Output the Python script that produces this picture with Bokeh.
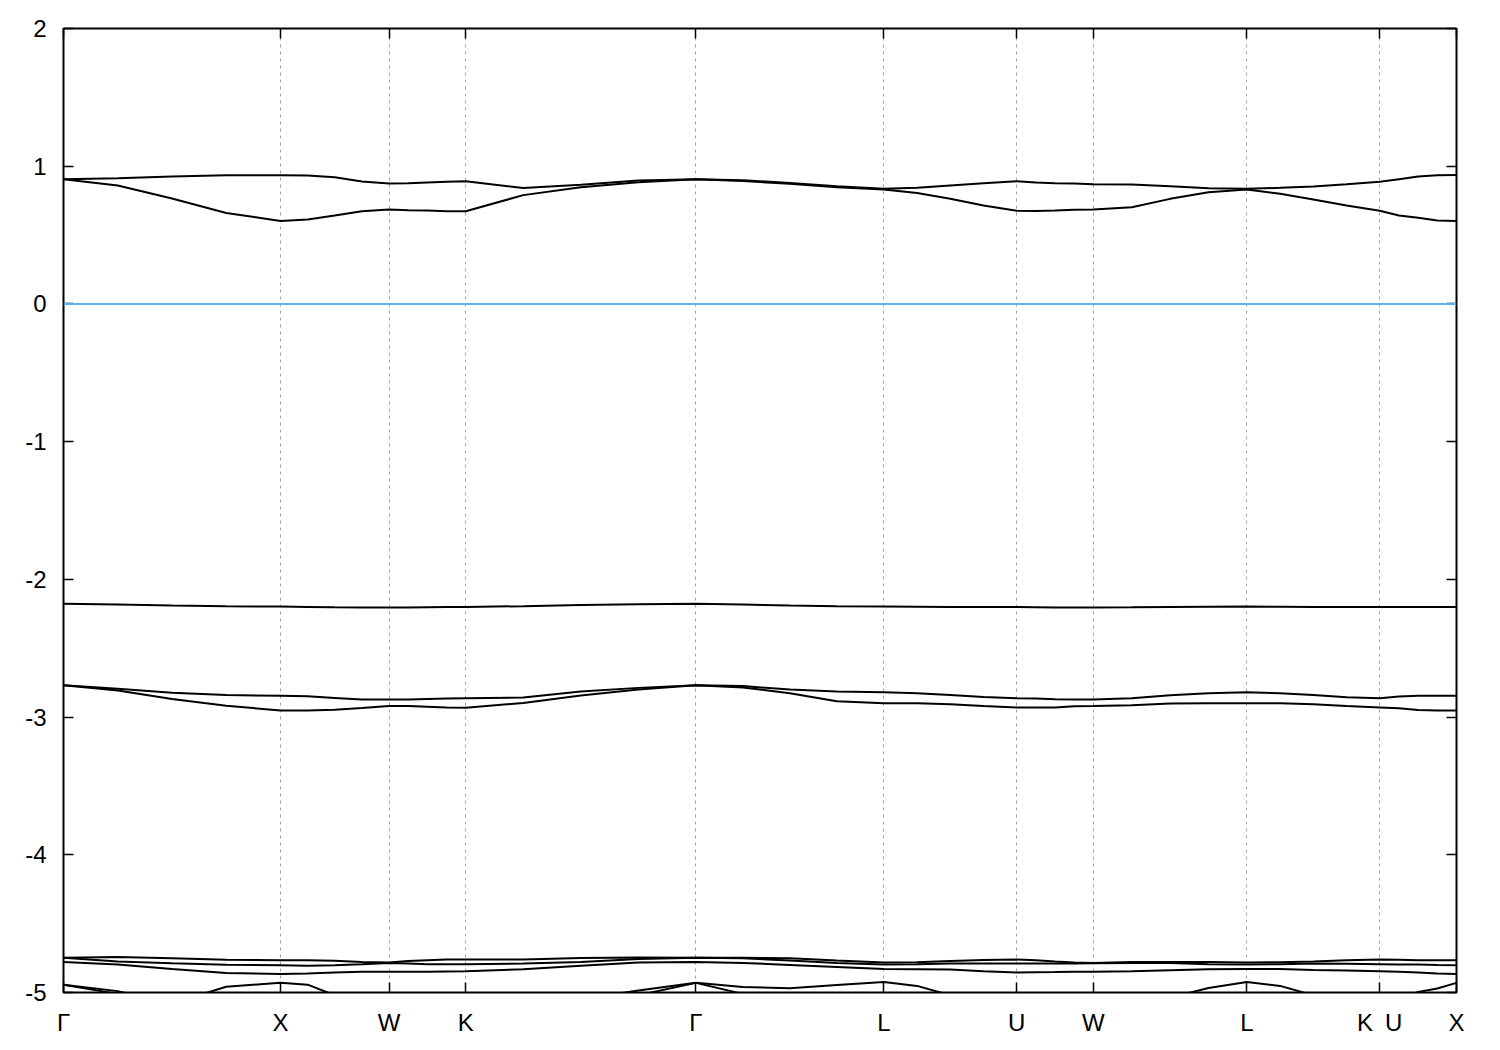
import numpy as np
from bokeh.plotting import figure
from bokeh.models import Range1d, LinearAxis, FixedTicker, Span
from bokeh.embed import file_html
from bokeh.resources import INLINE

# ---- k-path (fcc), segment lengths in units of 2*pi/a ----
seg_lengths = [1.0, 0.5, 0.35355, 1.06066, 0.86603, 0.61237, 0.35355, 0.70711, 0.61237, 0.35355]
sym_labels = ["Γ", "X", "W", "K", "Γ", "L", "U", "W", "L", "K\u2002U", "X"]
y_ticks = [-5, -4, -3, -2, -1, 0, 1, 2]
y_tick_labels = ["-5", "-4", "-3", "-2", "-1", "0", "1", "2"]
fermi_level = 0.0

# ---- band energies (eV), 4 samples per segment + final point ----
band_top = [0.905, 0.913, 0.925, 0.935,
            0.935, 0.933, 0.920, 0.889,
            0.874, 0.877, 0.882, 0.887,
            0.891, 0.841, 0.865, 0.896,
            0.905, 0.898, 0.879, 0.855,
            0.836, 0.843, 0.860, 0.876,
            0.891, 0.882, 0.877, 0.874,
            0.869, 0.868, 0.855, 0.840,
            0.836, 0.843, 0.853, 0.869,
            0.887, 0.906, 0.925, 0.935,
            0.937]
band_second = [0.905, 0.860, 0.765, 0.660,
               0.603, 0.613, 0.642, 0.673,
               0.686, 0.681, 0.678, 0.673,
               0.673, 0.790, 0.848, 0.884,
               0.905, 0.893, 0.872, 0.848,
               0.831, 0.805, 0.763, 0.715,
               0.676, 0.674, 0.678, 0.683,
               0.686, 0.702, 0.763, 0.811,
               0.831, 0.800, 0.758, 0.715,
               0.676, 0.642, 0.625, 0.606,
               0.603]
band_flat = [-2.178, -2.183, -2.190, -2.196,
             -2.198, -2.200, -2.203, -2.205,
             -2.205, -2.204, -2.202, -2.201,
             -2.200, -2.195, -2.187, -2.180,
             -2.178, -2.183, -2.190, -2.196,
             -2.198, -2.199, -2.200, -2.200,
             -2.200, -2.202, -2.204, -2.205,
             -2.205, -2.203, -2.200, -2.199,
             -2.198, -2.199, -2.200, -2.200,
             -2.200, -2.200, -2.200, -2.200,
             -2.200]
band_d_up = [-2.769, -2.795, -2.824, -2.839,
             -2.846, -2.849, -2.861, -2.873,
             -2.873, -2.873, -2.868, -2.865,
             -2.863, -2.858, -2.815, -2.788,
             -2.769, -2.775, -2.800, -2.815,
             -2.820, -2.827, -2.839, -2.854,
             -2.863, -2.866, -2.870, -2.873,
             -2.873, -2.863, -2.841, -2.827,
             -2.820, -2.827, -2.839, -2.856,
             -2.863, -2.851, -2.846, -2.846,
             -2.846]
band_d_low = [-2.769, -2.807, -2.868, -2.917,
              -2.953, -2.953, -2.946, -2.935,
              -2.920, -2.920, -2.925, -2.930,
              -2.933, -2.897, -2.844, -2.800,
              -2.769, -2.785, -2.827, -2.885,
              -2.900, -2.900, -2.907, -2.920,
              -2.930, -2.931, -2.931, -2.921,
              -2.920, -2.914, -2.902, -2.900,
              -2.900, -2.900, -2.907, -2.920,
              -2.930, -2.936, -2.948, -2.953,
              -2.953]
band_s_a = [-4.747, -4.743, -4.752, -4.762,
            -4.766, -4.766, -4.770, -4.778,
            -4.783, -4.771, -4.766, -4.761,
            -4.761, -4.761, -4.750, -4.745,
            -4.747, -4.747, -4.752, -4.768,
            -4.783, -4.780, -4.771, -4.764,
            -4.761, -4.766, -4.775, -4.783,
            -4.785, -4.778, -4.778, -4.778,
            -4.783, -4.780, -4.774, -4.766,
            -4.761, -4.763, -4.765, -4.766,
            -4.766]
band_s_b = [-4.747, -4.775, -4.788, -4.798,
            -4.802, -4.806, -4.802, -4.795,
            -4.786, -4.790, -4.795, -4.795,
            -4.795, -4.790, -4.778, -4.757,
            -4.747, -4.752, -4.768, -4.786,
            -4.797, -4.795, -4.790, -4.790,
            -4.790, -4.790, -4.790, -4.790,
            -4.788, -4.785, -4.786, -4.795,
            -4.797, -4.795, -4.790, -4.792,
            -4.795, -4.797, -4.797, -4.800,
            -4.802]
band_s_c = [-4.778, -4.797, -4.830, -4.858,
            -4.866, -4.862, -4.855, -4.850,
            -4.850, -4.850, -4.850, -4.848,
            -4.846, -4.831, -4.806, -4.783,
            -4.778, -4.785, -4.800, -4.815,
            -4.830, -4.831, -4.833, -4.845,
            -4.855, -4.853, -4.852, -4.850,
            -4.850, -4.846, -4.838, -4.831,
            -4.830, -4.830, -4.836, -4.840,
            -4.846, -4.850, -4.855, -4.862,
            -4.866]
band_low1 = [-4.943, -4.990, -5.080, -4.958,
             -4.930, -4.943, -5.020, -5.100,
             -5.150, -5.180, -5.200, -5.200,
             -5.200, -5.300, -5.050, -4.985,
             -4.930, -4.960, -4.970, -4.945,
             -4.923, -4.952, -5.020, -5.100,
             -5.150, -5.200, -5.200, -5.200,
             -5.200, -5.150, -5.037, -4.967,
             -4.923, -4.952, -5.020, -5.100,
             -5.150, -5.060, -4.996, -4.971,
             -4.930]
band_low0 = [-4.943, -5.010, -5.200, -5.200,
             -5.150, -5.200, -5.250, -5.250,
             -5.250, -5.250, -5.250, -5.250,
             -5.250, -5.350, -5.200, -5.020,
             -4.930, -5.010, -5.150, -5.150,
             -5.100, -5.200, -5.250, -5.250,
             -5.250, -5.250, -5.250, -5.250,
             -5.250, -5.250, -5.200, -5.150,
             -5.100, -5.200, -5.250, -5.250,
             -5.250, -5.200, -5.150, -5.100,
             -5.100]

bands = [band_top, band_second, band_flat, band_d_up, band_d_low,
         band_s_a, band_s_b, band_s_c, band_low1, band_low0]

# ---- k coordinates ----
sym_k = np.concatenate([[0.0], np.cumsum(seg_lengths)])
k_pts = []
for i in range(len(seg_lengths)):
    k_pts.extend(np.linspace(sym_k[i], sym_k[i + 1], 5)[:-1])
k_pts.append(sym_k[-1])
k_pts = np.array(k_pts)
k_total = float(sym_k[-1])
sym_k_list = [float(v) for v in sym_k]

FONT = "Liberation Sans"

p = figure(width=1492, height=1044,
           x_range=Range1d(0, k_total), y_range=Range1d(-5, 2),
           output_backend="svg", toolbar_location=None,
           min_border_left=63, min_border_right=36,
           min_border_top=28, min_border_bottom=52)
p.background_fill_color = "white"
p.border_fill_color = "white"
p.outline_line_color = "black"
p.outline_line_width = 2

# grid
p.xgrid.ticker = FixedTicker(ticks=sym_k_list[1:-1])
p.xgrid.grid_line_color = "#a0a0a0"
p.xgrid.grid_line_dash = "3 4"
p.xgrid.grid_line_width = 1
p.ygrid.grid_line_color = None

def style_axis(ax, show_labels, standoff=16):
    ax.axis_line_color = None
    ax.major_tick_in = 10
    ax.major_tick_out = 0
    ax.major_tick_line_color = "black"
    ax.major_tick_line_width = 1.5
    ax.minor_tick_line_color = None
    if show_labels:
        ax.major_label_text_font = FONT
        ax.major_label_text_font_size = "24px"
        ax.major_label_text_color = "black"
        ax.major_label_standoff = standoff
    else:
        ax.major_label_text_font_size = "1px"
        ax.major_label_text_color = None
        ax.major_label_standoff = 0

# bottom axis with high-symmetry labels
p.xaxis.ticker = FixedTicker(ticks=sym_k_list)
p.xaxis.major_label_overrides = {k: lab for k, lab in zip(sym_k_list, sym_labels)}
style_axis(p.xaxis[0], True, standoff=16)

# left axis
p.yaxis.ticker = FixedTicker(ticks=y_ticks)
p.yaxis.major_label_overrides = {t: s for t, s in zip(y_ticks, y_tick_labels)}
style_axis(p.yaxis[0], True, standoff=17)

top_ax = LinearAxis(ticker=FixedTicker(ticks=sym_k_list))
style_axis(top_ax, False)
p.add_layout(top_ax, "above")
right_ax = LinearAxis(ticker=FixedTicker(ticks=y_ticks))
style_axis(right_ax, False)
p.add_layout(right_ax, "right")

# bands
for b in bands:
    p.line(k_pts, b, line_color="black", line_width=2)

# Fermi level
p.add_layout(Span(location=fermi_level, dimension="width",
                  line_color="#56b4e9", line_width=2))

open("out.html", "w").write(file_html(p, INLINE))
